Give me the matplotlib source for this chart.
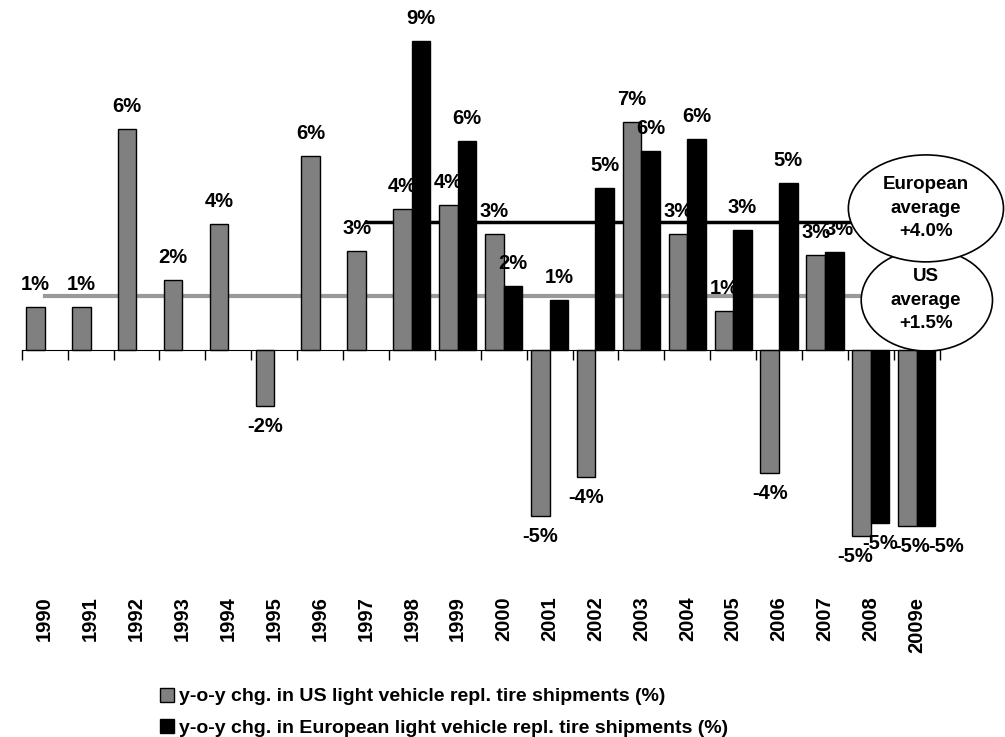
import matplotlib
matplotlib.use("Agg")
import matplotlib.pyplot as plt
from matplotlib.patches import Ellipse, Patch
import numpy as np

plt.rcParams["font.family"] = ["Liberation Sans", "DejaVu Sans"]
plt.rcParams["font.weight"] = "bold"

years = ["1990", "1991", "1992", "1993", "1994", "1995", "1996", "1997", "1998", "1999",
         "2000", "2001", "2002", "2003", "2004", "2005", "2006", "2007", "2008", "2009e"]
us_chg = [1.24, 1.24, 6.40, 2.02, 3.64, -1.63, 5.61, 2.86, 4.08, 4.18,
          3.34, -4.82, -3.69, 6.59, 3.34, 1.12, -3.59, 2.75, -5.41, -5.11]
eu_chg = [None, None, None, None, None, None, None, None, 8.95, 6.05,
          1.84, 1.43, 4.67, 5.76, 6.10, 3.46, 4.83, 2.82, -5.03, -5.11]
us_avg = 1.54
eu_avg = 3.7
us_avg_text = "US\naverage\n+1.5%"
eu_avg_text = "European\naverage\n+4.0%"
us_label = "y-o-y chg. in US light vehicle repl. tire shipments (%)"
eu_label = "y-o-y chg. in European light vehicle repl. tire shipments (%)"

GRAY = "#808080"
W = 0.405
FS = 14.5

fig = plt.figure(figsize=(10.05, 7.37), dpi=100)
ax = fig.add_axes([21.7 / 1005, 1 - 573.75 / 737, 918 / 1005, 569.25 / 737])

x = np.arange(len(years))
eu_x = [i for i, v in enumerate(eu_chg) if v is not None]
eu_v = [v for v in eu_chg if v is not None]

ax.bar(x - W / 2, us_chg, W, color=GRAY, edgecolor="black", linewidth=1, zorder=2)
ax.bar(np.array(eu_x) + W / 2, eu_v, W, color="black", edgecolor="black", linewidth=1, zorder=4)

# average lines (drawn under the bars)
ax.plot([0, 18.3], [us_avg, us_avg], color="#999999", lw=3, zorder=1)
ax.plot([7, 18.3], [eu_avg, eu_avg], color="black", lw=2.5, zorder=1)

# small manual nudges where labels collide (pixels)
nudge = {("us", 18): -6, ("us", 19): 5, ("eu", 19): 20, ("eu", 17): 5}


def put_label(xi, v, key, z):
    dx = nudge.get(key, 0)
    if v >= 0:
        ax.annotate(f"{v:.0f}%", (xi, v), xytext=(dx, 13), textcoords="offset pixels",
                    ha="center", va="bottom", fontsize=FS, fontweight="bold", zorder=z)
    else:
        ax.annotate(f"{v:.0f}%", (xi, v), xytext=(dx, -11), textcoords="offset pixels",
                    ha="center", va="top", fontsize=FS, fontweight="bold", zorder=z)


for i, v in enumerate(us_chg):
    put_label(i - W / 2, v, ("us", i), 3)
for i, v in zip(eu_x, eu_v):
    put_label(i + W / 2, v, ("eu", i), 5)

# callout ellipses
ax.add_patch(Ellipse((19.22, 1.43), 2.86, 2.95, facecolor="white", edgecolor="black",
                     lw=1.2, zorder=6, clip_on=False))
ax.add_patch(Ellipse((19.2, 4.09), 3.38, 3.1, facecolor="white", edgecolor="black",
                     lw=1.2, zorder=7, clip_on=False))
ax.text(19.2, 1.43, us_avg_text, ha="center", va="center", fontsize=13.5,
        fontweight="bold", linespacing=1.5, zorder=8)
ax.text(19.2, 4.09, eu_avg_text, ha="center", va="center", fontsize=13.5,
        fontweight="bold", linespacing=1.5, zorder=8)

ax.set_xlim(-0.5, 19.5)
ax.set_ylim(-6.5, 10)
for s in ["left", "right", "top"]:
    ax.spines[s].set_visible(False)
ax.spines["bottom"].set_position(("data", 0))
ax.spines["bottom"].set_zorder(9)
ax.set_yticks([])
ax.set_xticks(np.arange(-0.5, 20, 1))
ax.set_xticklabels([])
ax.tick_params(axis="x", length=7, direction="out", width=1)

for i, y in enumerate(years):
    ax.text(i, -0.04, y, transform=ax.get_xaxis_transform(), rotation=90,
            ha="center", va="top", fontsize=FS, fontweight="bold")

handles = [Patch(facecolor=GRAY, edgecolor="black", label=us_label),
           Patch(facecolor="black", edgecolor="black", label=eu_label)]
fig.legend(handles=handles, loc="upper left", bbox_to_anchor=(150 / 1005, 1 - 678 / 737),
           frameon=False, fontsize=14, handlelength=0.72, handleheight=0.72,
           handletextpad=0.25, labelspacing=0.7, borderpad=0)

fig.savefig("out.png", dpi=100)
